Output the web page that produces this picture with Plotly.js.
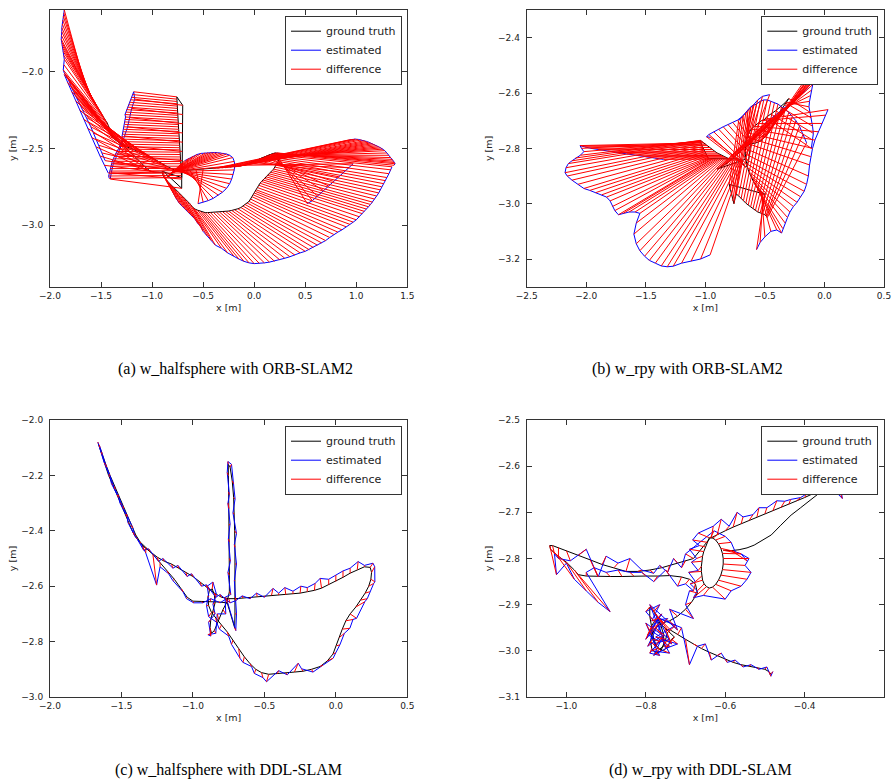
<!DOCTYPE html>
<html>
<head>
<meta charset="utf-8">
<script src="https://cdn.plot.ly/plotly-3.0.1.min.js"></script>
<style>html,body{margin:0;padding:0;background:#fff;}#chart{width:893px;height:779px;}</style>
</head>
<body>
<div id="chart"></div>
<script>
// ---------------- DATA ----------------
const captions = ["(a) w_halfsphere with ORB-SLAM2", "(b) w_rpy with ORB-SLAM2",
                  "(c) w_halfsphere with DDL-SLAM", "(d) w_rpy with DDL-SLAM"];
const seriesNames = ["ground truth", "estimated", "difference"];

// Panel (a): w_halfsphere, ORB-SLAM2  (estimate null = no estimate at that time)
const aGtX = [-1.66,-1.645,-1.63,-1.615,-1.60,-1.585,-1.57,-1.555,-1.54,-1.525,-1.51,-1.495,-1.48,-1.47,-1.455,-1.44,-1.43,-1.42,-1.41,-1.395,-1.38,-1.36,-1.34,-1.31,-1.28,-1.25,-1.21,-1.18,-1.14,-1.10,-1.06,-1.03,-0.99,-0.96,-0.93,-0.90,-0.87,-0.84,-0.80,-0.77, -0.77,
  -0.86,-0.855,-0.85,-0.845,-0.84,-0.835,-0.83,-0.825,-0.82,-0.815,-0.81,-0.805,-0.80,-0.795,-0.79,-0.785,-0.78,-0.775,-0.77,-0.76,-0.75,-0.74,-0.72,-0.70,-0.67,-0.63,-0.57,-0.50, -0.50,
  -0.40,-0.36,-0.32,-0.28,-0.24,-0.20,-0.17,-0.14,-0.11,-0.08,-0.05,-0.02,0.01,0.04,0.07,0.10,0.12,0.14,0.16,0.18,0.20,0.22,0.235,0.245, 0.245,
  -0.10,-0.06,-0.02,0.02,0.06,0.10,0.13,0.16,0.19,0.21, 0.21,
  0.25,0.248,0.245,0.24,0.235,0.225,0.215,0.203,0.19,0.175,0.16,0.145,0.13,0.115,0.10,0.085,0.07,0.057,0.045,0.032,0.02,0.01,0.00,-0.01,-0.02,-0.035,-0.05,-0.07,-0.09,-0.11,-0.13,-0.16,-0.19,-0.22,-0.25,-0.28,-0.31,-0.34,-0.37,-0.40,-0.43,-0.455,-0.48,-0.505,-0.53,-0.555,-0.58,-0.60,
  -0.60,-0.63,-0.66,-0.69,-0.72,-0.75,-0.78,-0.80,-0.82,-0.84,-0.86,-0.88,-0.895,-0.90, -0.90,
  -0.71,-0.711,-0.712,-0.714,-0.715,-0.717,-0.718,-0.72,-0.721,-0.722,-0.724,-0.725,-0.727,-0.728,-0.73,-0.731,-0.733,-0.734,-0.736,-0.737,-0.738,-0.74,-0.741,-0.743,-0.744,-0.745,-0.747,-0.748,-0.75,-0.751,-0.752,-0.754,-0.755,-0.756,-0.757,-0.758,
  -0.70,-0.70,-0.70,-0.70,-0.70,-0.705,-0.705,-0.705,-0.71,-0.71, -0.71,
  -0.88,-0.93,-0.98,-1.02,-1.07,-1.12,-1.17,-1.22,-1.27,-1.32,-1.37,-1.42];
const aGtY = [-2.085,-2.10,-2.12,-2.14,-2.16,-2.18,-2.20,-2.215,-2.23,-2.245,-2.26,-2.275,-2.29,-2.305,-2.32,-2.335,-2.35,-2.37,-2.39,-2.405,-2.42,-2.435,-2.448,-2.465,-2.478,-2.49,-2.50,-2.508,-2.518,-2.528,-2.54,-2.55,-2.565,-2.578,-2.59,-2.60,-2.612,-2.622,-2.635,-2.645, -2.645,
  -2.69,-2.686,-2.682,-2.678,-2.674,-2.671,-2.668,-2.665,-2.663,-2.661,-2.659,-2.657,-2.656,-2.655,-2.654,-2.653,-2.652,-2.651,-2.65,-2.649,-2.648,-2.647,-2.646,-2.645,-2.644,-2.643,-2.64,-2.635, -2.635,
  -2.632,-2.63,-2.628,-2.626,-2.624,-2.622,-2.619,-2.615,-2.61,-2.604,-2.598,-2.59,-2.582,-2.573,-2.564,-2.555,-2.55,-2.545,-2.54,-2.535,-2.531,-2.53,-2.532,-2.537, -2.537,
  -2.61,-2.60,-2.59,-2.58,-2.567,-2.555,-2.548,-2.54,-2.535,-2.532, -2.532,
  -2.545,-2.555,-2.565,-2.575,-2.585,-2.597,-2.61,-2.622,-2.635,-2.645,-2.655,-2.665,-2.675,-2.685,-2.695,-2.705,-2.715,-2.727,-2.74,-2.755,-2.77,-2.78,-2.79,-2.802,-2.815,-2.83,-2.845,-2.855,-2.865,-2.875,-2.885,-2.893,-2.90,-2.904,-2.908,-2.91,-2.912,-2.914,-2.915,-2.916,-2.917,-2.918,-2.918,-2.914,-2.908,-2.902,-2.895,-2.885,
  -2.885,-2.86,-2.84,-2.82,-2.80,-2.78,-2.765,-2.75,-2.735,-2.72,-2.705,-2.69,-2.67,-2.65, -2.65,
  -2.69,-2.676,-2.66,-2.645,-2.63,-2.616,-2.60,-2.586,-2.57,-2.556,-2.54,-2.525,-2.51,-2.496,-2.48,-2.465,-2.45,-2.436,-2.42,-2.405,-2.39,-2.376,-2.36,-2.345,-2.33,-2.316,-2.30,-2.285,-2.27,-2.256,-2.24,-2.225,-2.21,-2.195,-2.18,-2.165,
  -2.22,-2.28,-2.34,-2.40,-2.46,-2.52,-2.58,-2.64,-2.70,-2.76, -2.76,
  -2.655,-2.656,-2.655,-2.648,-2.62,-2.585,-2.55,-2.52,-2.49,-2.465,-2.44,-2.395];
const aEstX = [-1.86,-1.865,-1.87,-1.875,-1.88,-1.884,-1.885,-1.888,-1.89,-1.885,-1.88,-1.875,-1.87,-1.865,-1.86,-1.865,-1.87,-1.86,-1.85,-1.835,-1.82,-1.81,-1.80,-1.785,-1.77,-1.755,-1.74,-1.725,-1.71,-1.695,-1.68,-1.66,-1.64,-1.62,-1.60,-1.575,-1.55,-1.52,-1.49,-1.46, null,
  -0.68,-0.64,-0.60,-0.56,-0.52,-0.48,-0.45,-0.42,-0.39,-0.36,-0.33,-0.30,-0.27,-0.24,-0.21,-0.195,-0.19,-0.195,-0.205,-0.22,-0.24,-0.27,-0.31,-0.35,-0.40,-0.45,-0.50,-0.55, null,
  0.93,0.96,0.99,1.02,1.05,1.08,1.10,1.12,1.14,1.16,1.18,1.20,1.22,1.24,1.26,1.28,1.30,1.32,1.34,1.355,1.365,1.375,1.38,1.37, null,
  0.97,0.93,0.88,0.83,0.78,0.73,0.68,0.62,0.57,0.52, null,
  1.35,1.34,1.32,1.30,1.285,1.27,1.25,1.235,1.22,1.20,1.18,1.16,1.14,1.12,1.10,1.08,1.06,1.03,1.00,0.97,0.94,0.90,0.86,0.82,0.78,0.74,0.70,0.66,0.62,0.58,0.54,0.50,0.45,0.40,0.35,0.30,0.25,0.20,0.15,0.10,0.05,0.00,-0.05,-0.10,-0.15,-0.20,-0.26,-0.32,
  -0.38,-0.42,-0.46,-0.50,-0.52,-0.55,-0.58,-0.61,-0.64,-0.67,-0.70,-0.73,-0.76,-0.80, null,
  -1.42,-1.425,-1.42,-1.415,-1.41,-1.405,-1.40,-1.39,-1.38,-1.37,-1.36,-1.345,-1.33,-1.32,-1.31,-1.30,-1.29,-1.295,-1.29,-1.285,-1.28,-1.275,-1.27,-1.27,-1.265,-1.26,-1.265,-1.255,-1.25,-1.24,-1.23,-1.22,-1.21,-1.20,-1.19,-1.18,
  -1.17,-1.20,-1.22,-1.24,-1.27,-1.30,-1.34,-1.38,-1.40,-1.41, null,
  -1.43,-1.47,-1.51,-1.55,-1.59,-1.63,-1.67,-1.71,-1.75,-1.79,-1.83,-1.86];
const aEstY = [-1.60,-1.62,-1.64,-1.665,-1.69,-1.715,-1.74,-1.765,-1.79,-1.81,-1.83,-1.85,-1.87,-1.895,-1.92,-1.955,-1.99,-2.01,-2.02,-2.035,-2.05,-2.07,-2.09,-2.11,-2.13,-2.15,-2.17,-2.19,-2.21,-2.23,-2.25,-2.275,-2.30,-2.33,-2.36,-2.40,-2.44,-2.48,-2.53,-2.58, null,
  -2.58,-2.565,-2.552,-2.54,-2.533,-2.53,-2.528,-2.527,-2.527,-2.528,-2.53,-2.533,-2.537,-2.545,-2.56,-2.585,-2.61,-2.64,-2.67,-2.70,-2.73,-2.76,-2.785,-2.805,-2.825,-2.84,-2.85,-2.86, null,
  -2.445,-2.442,-2.44,-2.442,-2.445,-2.45,-2.455,-2.46,-2.465,-2.47,-2.476,-2.483,-2.49,-2.497,-2.505,-2.515,-2.53,-2.545,-2.56,-2.572,-2.583,-2.592,-2.60,-2.61, null,
  -2.60,-2.625,-2.655,-2.685,-2.715,-2.745,-2.775,-2.81,-2.84,-2.86, null,
  -2.62,-2.64,-2.665,-2.69,-2.71,-2.73,-2.75,-2.77,-2.79,-2.81,-2.83,-2.85,-2.865,-2.88,-2.895,-2.91,-2.925,-2.945,-2.965,-2.98,-2.995,-3.01,-3.03,-3.045,-3.06,-3.08,-3.10,-3.115,-3.13,-3.145,-3.16,-3.17,-3.18,-3.195,-3.205,-3.215,-3.225,-3.235,-3.24,-3.245,-3.248,-3.25,-3.245,-3.235,-3.22,-3.20,-3.18,-3.15,
  -3.13,-3.10,-3.07,-3.04,-3.01,-2.99,-2.96,-2.94,-2.92,-2.90,-2.88,-2.86,-2.83,-2.78, null,
  -2.695,-2.68,-2.665,-2.648,-2.632,-2.616,-2.60,-2.584,-2.568,-2.552,-2.536,-2.52,-2.504,-2.488,-2.472,-2.456,-2.44,-2.424,-2.408,-2.392,-2.376,-2.36,-2.344,-2.328,-2.312,-2.296,-2.28,-2.264,-2.248,-2.232,-2.216,-2.20,-2.184,-2.168,-2.15,-2.132,
  -2.18,-2.24,-2.30,-2.36,-2.42,-2.48,-2.54,-2.60,-2.66,-2.70, null,
  -2.66,-2.61,-2.55,-2.49,-2.43,-2.37,-2.31,-2.25,-2.19,-2.13,-2.07,-2.02];

// Panel (b): w_rpy, ORB-SLAM2
const bGtX = [-0.80,-0.82,-0.84,-0.86,-0.88,-0.90,-0.92,-0.94,-0.96,-0.98,-0.995,-1.01,-1.02,-1.03,-1.037,-1.042,-1.042,-1.04,-1.035,-1.03,
  -1.025,-1.018,-1.01,-1.003,-0.996,-0.99,-0.984,-0.978,-0.975,-0.965,-0.955,-0.945,-0.935,-0.92,-0.905,-0.89,-0.875,-0.86,-0.845,-0.83,-0.815,-0.80,-0.785,-0.77,-0.755,-0.74,-0.725,-0.71,-0.70,-0.69, -0.69,
  -0.69,-0.675,-0.66,-0.648,-0.638,-0.63,-0.625,-0.622,-0.624,-0.63,-0.64,-0.65,-0.658,-0.663,-0.666,-0.667, -0.667,
  -0.90,-0.88,-0.86,-0.84,-0.82,-0.80,-0.78,-0.76,-0.74,-0.72,-0.70,-0.68,-0.66,-0.64,-0.62,-0.60,-0.58,-0.56,-0.54,-0.52,-0.50,-0.48,-0.46,-0.44,-0.42,-0.40,-0.38,-0.36,-0.34,-0.32,-0.30,-0.33,-0.37,-0.41,-0.45,-0.49, -0.49,
  -0.50,-0.53,-0.56,-0.59,-0.615,-0.635,-0.65,-0.66,-0.665,-0.665,-0.66,-0.655,-0.645,-0.635,-0.625,-0.61,-0.60,-0.59,-0.575,-0.56,-0.545,-0.53,-0.515,-0.50, -0.50,
  -0.80,-0.79,-0.78,-0.77,-0.76,-0.75,-0.74,-0.72,-0.70,-0.68,-0.66,-0.64,-0.62,-0.60,-0.58,-0.56,-0.54,-0.52,-0.50,-0.49,-0.485,-0.48];
const bGtY = [-2.838,-2.834,-2.83,-2.826,-2.821,-2.817,-2.811,-2.804,-2.797,-2.79,-2.785,-2.78,-2.777,-2.774,-2.772,-2.771,-2.774,-2.778,-2.783,-2.788,
  -2.794,-2.80,-2.806,-2.812,-2.818,-2.823,-2.828,-2.833,-2.836,-2.837,-2.837,-2.838,-2.838,-2.839,-2.839,-2.839,-2.839,-2.839,-2.839,-2.838,-2.838,-2.838,-2.838,-2.838,-2.837,-2.837,-2.838,-2.84,-2.843,-2.847, -2.847,
  -2.85,-2.862,-2.868,-2.86,-2.845,-2.825,-2.805,-2.785,-2.77,-2.76,-2.755,-2.758,-2.77,-2.79,-2.815,-2.84, -2.84,
  -2.875,-2.87,-2.865,-2.86,-2.855,-2.848,-2.84,-2.832,-2.824,-2.816,-2.808,-2.80,-2.794,-2.788,-2.784,-2.782,-2.781,-2.778,-2.774,-2.768,-2.76,-2.75,-2.737,-2.72,-2.704,-2.69,-2.675,-2.66,-2.645,-2.633,-2.62,-2.635,-2.65,-2.664,-2.676,-2.688, -2.688,
  -2.695,-2.70,-2.71,-2.72,-2.73,-2.745,-2.76,-2.78,-2.80,-2.82,-2.84,-2.855,-2.87,-2.885,-2.895,-2.905,-2.915,-2.925,-2.935,-2.945,-2.952,-2.958,-2.962,-2.966, -2.966,
  -2.93,-2.95,-2.97,-2.99,-3.0,-2.98,-2.965,-2.972,-2.982,-2.99,-2.998,-3.005,-3.012,-3.018,-3.025,-3.03,-3.033,-3.036,-3.04,-3.044,-3.047,-3.05];
const bEstX = [-1.35,-1.42,-1.50,-1.58,-1.66,-1.74,-1.82,-1.90,-1.96,-2.01,-2.04,-2.052,-2.04,-2.02,-2.05,-2.09,-2.12,-2.15,-2.17,-2.178,
  -2.16,-2.12,-2.07,-2.02,-1.97,-1.92,-1.87,-1.83,-1.80,-1.78,-1.76,-1.73,-1.69,-1.64,-1.59,-1.55,-1.58,-1.60,-1.58,-1.55,-1.51,-1.47,-1.42,-1.37,-1.32,-1.27,-1.20,-1.12,-1.04,-0.96, null,
  -0.96,-0.99,-0.97,-0.93,-0.89,-0.85,-0.81,-0.77,-0.73,-0.69,-0.65,-0.62,-0.59,-0.56,-0.52,-0.46, null,
  -0.50,-0.47,-0.44,-0.41,-0.38,-0.35,-0.32,-0.29,-0.26,-0.23,-0.20,-0.18,-0.16,-0.14,-0.12,-0.10,-0.08,-0.07,-0.06,-0.05,-0.04,-0.03,-0.05,-0.07,-0.09,-0.10,-0.11,-0.12,-0.125,-0.13,-0.12,-0.11,-0.10,-0.093,-0.10,-0.11, null,
  0.03,0.01,-0.02,-0.05,-0.08,-0.10,-0.115,-0.125,-0.135,-0.15,-0.17,-0.20,-0.23,-0.26,-0.29,-0.31,-0.33,-0.35,-0.36,-0.40,-0.45,-0.50,-0.54,-0.57, null,
  -0.72,-0.70,-0.68,-0.66,-0.64,-0.62,-0.60,-0.57,-0.54,-0.51,-0.48,-0.45,-0.42,-0.39,-0.36,-0.33,-0.30,-0.27,-0.24,-0.21,-0.18,-0.15];
const bEstY = [-2.84,-2.835,-2.83,-2.825,-2.82,-2.815,-2.81,-2.805,-2.80,-2.795,-2.792,-2.79,-2.80,-2.812,-2.825,-2.835,-2.845,-2.855,-2.87,-2.888,
  -2.90,-2.915,-2.93,-2.945,-2.952,-2.96,-2.968,-2.976,-2.99,-3.01,-3.025,-3.04,-3.035,-3.03,-3.03,-3.035,-3.07,-3.11,-3.145,-3.17,-3.19,-3.205,-3.215,-3.225,-3.228,-3.226,-3.215,-3.208,-3.20,-3.185, null,
  -2.76,-2.758,-2.75,-2.74,-2.73,-2.722,-2.714,-2.706,-2.698,-2.685,-2.668,-2.655,-2.64,-2.625,-2.612,-2.606, null,
  -2.71,-2.70,-2.69,-2.68,-2.67,-2.66,-2.65,-2.64,-2.63,-2.62,-2.61,-2.60,-2.59,-2.58,-2.57,-2.56,-2.55,-2.535,-2.52,-2.505,-2.49,-2.47,-2.50,-2.53,-2.55,-2.57,-2.59,-2.61,-2.63,-2.65,-2.67,-2.69,-2.72,-2.746,-2.77,-2.80, null,
  -2.66,-2.68,-2.71,-2.74,-2.77,-2.80,-2.83,-2.86,-2.90,-2.93,-2.955,-2.975,-2.995,-3.01,-3.03,-3.05,-3.07,-3.09,-3.106,-3.095,-3.10,-3.12,-3.14,-3.166, null,
  -2.70,-2.69,-2.68,-2.67,-2.66,-2.65,-2.645,-2.64,-2.63,-2.625,-2.625,-2.63,-2.635,-2.64,-2.65,-2.66,-2.67,-2.685,-2.70,-2.72,-2.75,-2.78];

// Panel (c): w_halfsphere, DDL-SLAM
const cGtX = [-1.662,-1.64,-1.615,-1.59,-1.56,-1.53,-1.50,-1.47,-1.445,-1.42,-1.39,-1.35,-1.30,-1.25,-1.20,-1.15,-1.10,-1.05,-1.00,-0.95,-0.90,-0.85,-0.80,-0.75,
  -0.70,-0.65,-0.60,-0.55,-0.50,-0.45,-0.40,-0.35,-0.30,-0.25,-0.20,-0.15,-0.10,-0.05,0.00,0.05,0.10,0.15,0.20,0.24,
  0.25,0.245,0.23,0.205,0.175,0.14,0.10,0.07,0.045,0.025,0.005,-0.02,-0.06,-0.11,
  -0.17,-0.23,-0.29,-0.35,-0.41,-0.47,-0.52,-0.56,-0.60,-0.64,-0.68,-0.72,-0.76,-0.80,-0.84,-0.87,
  -0.89,-0.895,-0.885,-0.865,-0.85,-0.845,-0.86,-0.875,-0.88,-0.87,-0.85,-0.82,-0.79,-0.76,
  -0.745,-0.745,-0.745,-0.745,-0.747,-0.748,-0.75,-0.752,-0.753,
  -0.74,-0.725,-0.715,-0.71,-0.708,-0.706,-0.705,-0.705,-0.705,-0.706,-0.708,
  -0.76,-0.82,-0.88,-0.94,-1.00,-1.04,-1.08,-1.13,-1.18,-1.23,-1.28,-1.33,-1.37,-1.40,-1.43,-1.46,-1.49,-1.52,-1.55,-1.58,-1.61,-1.635,-1.65];
const cGtY = [-2.085,-2.12,-2.16,-2.20,-2.235,-2.27,-2.305,-2.34,-2.375,-2.405,-2.43,-2.455,-2.475,-2.495,-2.51,-2.52,-2.535,-2.55,-2.565,-2.585,-2.605,-2.625,-2.64,-2.645,
  -2.645,-2.643,-2.64,-2.638,-2.635,-2.633,-2.632,-2.631,-2.628,-2.625,-2.62,-2.615,-2.607,-2.595,-2.583,-2.568,-2.553,-2.54,-2.53,-2.532,
  -2.55,-2.575,-2.60,-2.625,-2.65,-2.675,-2.70,-2.725,-2.755,-2.785,-2.815,-2.845,-2.87,-2.89,
  -2.90,-2.907,-2.91,-2.913,-2.916,-2.918,-2.912,-2.90,-2.88,-2.855,-2.825,-2.795,-2.765,-2.74,-2.715,-2.695,
  -2.67,-2.64,-2.615,-2.61,-2.63,-2.66,-2.69,-2.72,-2.75,-2.77,-2.76,-2.72,-2.685,-2.655,
  -2.62,-2.56,-2.50,-2.44,-2.38,-2.32,-2.26,-2.20,-2.16,
  -2.17,-2.22,-2.28,-2.34,-2.40,-2.46,-2.52,-2.58,-2.64,-2.70,-2.75,
  -2.66,-2.657,-2.656,-2.656,-2.654,-2.64,-2.61,-2.575,-2.545,-2.515,-2.485,-2.46,-2.44,-2.415,-2.38,-2.345,-2.31,-2.275,-2.24,-2.20,-2.16,-2.12,-2.10];
const cEstX = [-1.665,-1.635,-1.62,-1.58,-1.57,-1.52,-1.51,-1.46,-1.455,-1.41,-1.395,-1.345,-1.31,-1.24,-1.21,-1.14,-1.105,-1.04,-1.01,-0.94,-0.905,-0.84,-0.81,-0.74,
  -0.70,-0.655,-0.60,-0.555,-0.50,-0.44,-0.40,-0.357,-0.30,-0.245,-0.20,-0.145,-0.11,-0.05,0.00,0.05,0.10,0.156,0.20,0.26,
  0.272,0.273,0.265,0.238,0.22,0.203,0.145,0.12,0.098,0.06,0.028,0.00,-0.019,-0.09,
  -0.16,-0.24,-0.263,-0.34,-0.40,-0.485,-0.51,-0.57,-0.59,-0.65,-0.671,-0.73,-0.75,-0.815,-0.835,-0.89,
  -0.905,-0.89,-0.90,-0.86,-0.835,-0.86,-0.845,-0.89,-0.875,-0.895,-0.84,-0.83,-0.77,-0.775,
  -0.735,-0.755,-0.738,-0.752,-0.74,-0.755,-0.745,-0.76,-0.755,
  -0.73,-0.715,-0.705,-0.72,-0.695,-0.71,-0.695,-0.71,-0.70,-0.695,-0.70,
  -0.765,-0.81,-0.875,-0.93,-0.995,-1.045,-1.07,-1.14,-1.17,-1.23,-1.254,-1.33,-1.365,-1.405,-1.42,-1.465,-1.485,-1.525,-1.545,-1.585,-1.605,-1.64,-1.655];
const cEstY = [-2.08,-2.125,-2.155,-2.205,-2.23,-2.28,-2.30,-2.35,-2.37,-2.415,-2.425,-2.47,-2.465,-2.51,-2.50,-2.535,-2.525,-2.565,-2.555,-2.60,-2.595,-2.64,-2.63,-2.66,
  -2.652,-2.635,-2.645,-2.625,-2.64,-2.608,-2.625,-2.605,-2.618,-2.60,-2.605,-2.59,-2.572,-2.575,-2.56,-2.545,-2.535,-2.511,-2.525,-2.517,
  -2.53,-2.584,-2.59,-2.62,-2.645,-2.656,-2.716,-2.72,-2.752,-2.77,-2.812,-2.84,-2.86,-2.885,
  -2.91,-2.898,-2.878,-2.92,-2.905,-2.945,-2.93,-2.915,-2.89,-2.875,-2.86,-2.81,-2.78,-2.755,-2.73,-2.71,
  -2.67,-2.635,-2.60,-2.585,-2.63,-2.665,-2.70,-2.73,-2.78,-2.775,-2.77,-2.70,-2.70,-2.64,
  -2.63,-2.55,-2.51,-2.43,-2.375,-2.30,-2.27,-2.19,-2.15,
  -2.16,-2.23,-2.285,-2.335,-2.41,-2.45,-2.52,-2.58,-2.65,-2.70,-2.76,
  -2.645,-2.66,-2.645,-2.66,-2.66,-2.645,-2.62,-2.58,-2.555,-2.53,-2.596,-2.48,-2.445,-2.42,-2.39,-2.34,-2.32,-2.27,-2.25,-2.195,-2.17,-2.115,-2.09];

// Panel (d): w_rpy, DDL-SLAM  (estimate null = no estimate at that time)
const dGtX = [-0.605,-0.585,-0.565,-0.545,-0.527,-0.505,-0.484,-0.46,-0.434,-0.41,-0.391,-0.37,-0.35,-0.33,-0.31,-0.29,
  -0.28,-0.30,-0.32,-0.34,-0.36,-0.38,-0.40,-0.42,-0.44,-0.46,-0.48,-0.50,-0.52,-0.54,-0.56,-0.58,-0.60,-0.62,-0.635,
  -0.640,-0.645,-0.650,-0.654,-0.657,-0.659,-0.660,-0.660,-0.659,-0.657,-0.653,-0.647,-0.640,-0.632,-0.624,-0.617,-0.611,-0.607,-0.605,-0.605,-0.607,-0.611,-0.617,-0.624,-0.631,-0.637,
  -0.68,-0.70,-0.72,-0.74,-0.76,-0.79,-0.82,-0.85,-0.88,-0.91,-0.94,-0.97,-1.00,-1.02,-1.035,-1.042,-1.04,-1.025,-1.00,-0.98,-0.97,-0.95,-0.92,-0.89,-0.86,-0.83,-0.80,-0.77,-0.74,-0.71,-0.69,-0.675,
  -0.67,-0.685,-0.70,-0.72,-0.74,-0.76,-0.775,-0.785,-0.788,-0.785,-0.775,-0.762,-0.755,-0.755,-0.762,-0.77,-0.78,-0.79,-0.79,-0.785,-0.78,-0.77,-0.755,-0.745,-0.735,
  -0.728,-0.74,-0.752,-0.765,-0.777,-0.785,-0.787,-0.783,-0.775,-0.765,-0.755,-0.75,-0.745,-0.738,
  -0.72,-0.70,-0.68,-0.66,-0.64,-0.62,-0.60,-0.58,-0.56,-0.54,-0.52,-0.50,-0.49,-0.485];
const dGtY = [-2.782,-2.783,-2.781,-2.777,-2.771,-2.76,-2.749,-2.728,-2.706,-2.69,-2.677,-2.662,-2.648,-2.636,-2.625,-2.615,
  -2.628,-2.633,-2.638,-2.645,-2.652,-2.66,-2.668,-2.675,-2.683,-2.69,-2.697,-2.703,-2.71,-2.718,-2.725,-2.732,-2.74,-2.748,-2.755,
  -2.755,-2.765,-2.775,-2.785,-2.795,-2.806,-2.817,-2.828,-2.838,-2.847,-2.855,-2.861,-2.864,-2.862,-2.856,-2.847,-2.836,-2.824,-2.812,-2.80,-2.789,-2.778,-2.768,-2.76,-2.756,-2.755,
  -2.80,-2.805,-2.81,-2.815,-2.82,-2.825,-2.828,-2.828,-2.82,-2.813,-2.803,-2.793,-2.783,-2.776,-2.772,-2.772,-2.78,-2.792,-2.808,-2.825,-2.835,-2.838,-2.839,-2.839,-2.839,-2.838,-2.838,-2.838,-2.837,-2.84,-2.845,-2.855,
  -2.875,-2.895,-2.91,-2.925,-2.935,-2.94,-2.95,-2.965,-2.98,-2.995,-3.005,-3.0,-2.985,-2.965,-2.945,-2.93,-2.915,-2.905,-2.925,-2.95,-2.975,-2.995,-3.0,-2.99,-2.975,
  -2.97,-2.96,-2.95,-2.94,-2.935,-2.945,-2.96,-2.975,-2.988,-2.996,-2.99,-2.975,-2.96,-2.955,
  -2.965,-2.975,-2.985,-2.995,-3.003,-3.01,-3.018,-3.025,-3.03,-3.033,-3.036,-3.04,-3.045,-3.05];
const dEstX = [-0.56,-0.545,null,null,null,null,null,null,null,null,null,null,null,null,null,null,
  -0.285,-0.31,-0.305,-0.33,-0.355,-0.37,-0.395,-0.41,-0.435,-0.45,-0.47,-0.495,-0.515,-0.53,-0.555,-0.57,-0.59,-0.61,-0.63,
  -0.668,-0.682,-0.665,-0.69,-0.672,-0.685,-0.668,-0.692,-0.675,-0.688,-0.67,-0.68,-0.655,-0.60,-0.585,-0.56,-0.545,-0.535,-0.55,-0.54,-0.56,-0.575,-0.585,-0.60,-0.615,-0.628,
  -0.70,-0.71,-0.73,-0.745,-0.765,-0.78,-0.81,-0.84,-0.87,-0.90,-0.92,-0.95,-0.99,-1.02,-1.03,-1.025,-1.00,-0.98,-0.95,-0.92,-0.89,-0.95,-0.93,-0.90,-0.87,-0.84,-0.81,-0.78,-0.75,-0.72,-0.70,-0.68,
  -0.69,-0.70,-0.68,-0.74,-0.72,-0.79,-0.76,-0.80,-0.775,-0.79,-0.765,-0.78,-0.74,-0.77,-0.745,-0.785,-0.765,-0.80,-0.775,-0.795,-0.765,-0.785,-0.74,-0.76,-0.72,
  -0.75,-0.775,-0.735,-0.79,-0.76,-0.80,-0.77,-0.795,-0.755,-0.78,-0.74,-0.775,-0.725,-0.765,
  -0.71,-0.69,-0.67,-0.65,-0.635,-0.61,-0.595,-0.575,-0.555,-0.535,-0.515,-0.495,-0.485,-0.48];
const dEstY = [-2.79,-2.805,null,null,null,null,null,null,null,null,null,null,null,null,null,null,
  -2.625,-2.64,-2.67,-2.648,-2.645,-2.655,-2.66,-2.668,-2.672,-2.676,-2.675,-2.69,-2.69,-2.705,-2.71,-2.70,-2.73,-2.715,-2.73,
  -2.745,-2.76,-2.772,-2.78,-2.80,-2.808,-2.826,-2.83,-2.85,-2.855,-2.87,-2.885,-2.88,-2.888,-2.87,-2.86,-2.845,-2.83,-2.815,-2.80,-2.79,-2.785,-2.765,-2.752,-2.745,-2.74,
  -2.79,-2.82,-2.80,-2.83,-2.815,-2.832,-2.825,-2.80,-2.81,-2.795,-2.84,-2.78,-2.805,-2.80,-2.79,-2.835,-2.81,-2.845,-2.87,-2.895,-2.915,-2.83,-2.82,-2.83,-2.825,-2.83,-2.83,-2.85,-2.825,-2.86,-2.855,-2.87,
  -2.87,-2.90,-2.93,-2.91,-2.955,-2.90,-2.965,-2.94,-2.99,-3.005,-3.01,-2.985,-2.975,-2.955,-2.93,-2.935,-2.90,-2.915,-2.94,-2.965,-2.98,-3.0,-3.005,-2.975,-2.985,
  -2.995,-2.92,-2.985,-2.955,-2.92,-2.975,-2.945,-2.99,-2.965,-3.01,-2.99,-2.97,-2.945,-2.93,
  -2.95,-3.03,-2.99,-2.985,-3.02,-3.005,-3.025,-3.02,-3.035,-3.03,-3.04,-3.035,-3.055,-3.045];

// ---------------- BUILD ----------------
function diffSegments(gx, gy, ex, ey) {
  const x = [], y = [];
  for (let i = 0; i < gx.length; i++) {
    if (gx[i] == null || ex[i] == null) continue;
    x.push(gx[i], ex[i], null);
    y.push(gy[i], ey[i], null);
  }
  return {x, y};
}

const panels = [
  {gx: aGtX, gy: aGtY, ex: aEstX, ey: aEstY},
  {gx: bGtX, gy: bGtY, ex: bEstX, ey: bEstY},
  {gx: cGtX, gy: cGtY, ex: cEstX, ey: cEstY},
  {gx: dGtX, gy: dGtY, ex: dEstX, ey: dEstY}
];
const axSuffix = ['', '2', '3', '4'];
const legendIds = ['legend', 'legend2', 'legend3', 'legend4'];
const colors = ['#000000', '#0000ff', '#ff0000'];

const traces = [];
panels.forEach((p, k) => {
  const xa = 'x' + axSuffix[k], ya = 'y' + axSuffix[k];
  const d = diffSegments(p.gx, p.gy, p.ex, p.ey);
  const sets = [[p.gx, p.gy], [p.ex, p.ey], [d.x, d.y]];
  sets.forEach((s, j) => {
    traces.push({type: 'scatter', mode: 'lines', x: s[0], y: s[1], xaxis: xa, yaxis: ya,
      name: seriesNames[j], legend: legendIds[k],
      line: {color: colors[j], width: 1}, connectgaps: false, hoverinfo: 'skip'});
  });
});

const W = 893, H = 779;
const tickFont = {family: 'DejaVu Sans', size: 9, color: '#222'};
const titleFont = {family: 'DejaVu Sans', size: 9.5, color: '#222'};
function axis(extra) {
  return Object.assign({
    ticks: 'inside', ticklen: 5, tickwidth: 1, tickcolor: '#333',
    showline: true, linecolor: '#333', linewidth: 1, mirror: 'ticks',
    showgrid: false, zeroline: false, tickfont: tickFont, tickformat: '.1f',
    fixedrange: true
  }, extra);
}
const eps = 1e-6;
const topDom = [1 - 286.7 / H, 1 - 10 / H];
const botDom = [1 - 697 / H, 1 - 420 / H];
const leftDom = [50 / W, 407.3 / W];
const rightDom = [526.7 / W, 884 / W];
const xTitle = {text: 'x [m]', font: titleFont, standoff: 4};
const yTitle = {text: 'y [m]', font: titleFont, standoff: 3};

function legendAt(xRight, yTop) {
  return {x: xRight / W, xanchor: 'right', y: 1 - yTop / H, yanchor: 'top',
    bgcolor: '#ffffff', bordercolor: '#333', borderwidth: 1, traceorder: 'normal',
    font: {family: 'DejaVu Sans', size: 11, color: '#222'}, tracegroupgap: 0};
}

const layout = {
  width: W, height: H, margin: {l: 0, r: 0, t: 0, b: 0},
  paper_bgcolor: '#ffffff', plot_bgcolor: '#ffffff', showlegend: true, hovermode: false,
  xaxis: axis({domain: leftDom, anchor: 'y', range: [-2 - eps, 1.5 + eps], dtick: 0.5, tick0: 0, title: xTitle}),
  yaxis: axis({domain: topDom, anchor: 'x', range: [-3.4, -1.6], dtick: 0.5, tick0: 0, title: yTitle, ticklabelstandoff: 4}),
  xaxis2: axis({domain: rightDom, anchor: 'y2', range: [-2.5 - eps, 0.5 + eps], dtick: 0.5, tick0: 0, title: xTitle}),
  yaxis2: axis({domain: topDom, anchor: 'x2', range: [-3.3, -2.3], dtick: 0.2, tick0: 0, title: yTitle, ticklabelstandoff: 4}),
  xaxis3: axis({domain: leftDom, anchor: 'y3', range: [-2 - eps, 0.5 + eps], dtick: 0.5, tick0: 0, title: xTitle}),
  yaxis3: axis({domain: botDom, anchor: 'x3', range: [-3 - eps, -2 + eps], dtick: 0.2, tick0: 0, title: yTitle, ticklabelstandoff: 4}),
  xaxis4: axis({domain: rightDom, anchor: 'y4', range: [-1.1, -0.2 + eps], dtick: 0.2, tick0: 0, title: xTitle}),
  yaxis4: axis({domain: botDom, anchor: 'x4', range: [-3.1 - eps, -2.5 + eps], dtick: 0.1, tick0: 0, title: yTitle, ticklabelstandoff: 4}),
  legend: legendAt(402, 15.7),
  legend2: legendAt(878.3, 15.7),
  legend3: legendAt(402, 425.7),
  legend4: legendAt(878.3, 425.7),
  annotations: [
    {text: captions[0], x: 236 / W, y: 1 - 369 / H},
    {text: captions[1], x: 687 / W, y: 1 - 369 / H},
    {text: captions[2], x: 229 / W, y: 1 - 770 / H},
    {text: captions[3], x: 700 / W, y: 1 - 770 / H}
  ].map(a => Object.assign(a, {xref: 'paper', yref: 'paper', xanchor: 'center', yanchor: 'middle',
    showarrow: false, font: {family: 'Liberation Serif', size: 16, color: '#000'}}))
};

Plotly.newPlot('chart', traces, layout, {staticPlot: true, displayModeBar: false});
</script>
</body>
</html>
